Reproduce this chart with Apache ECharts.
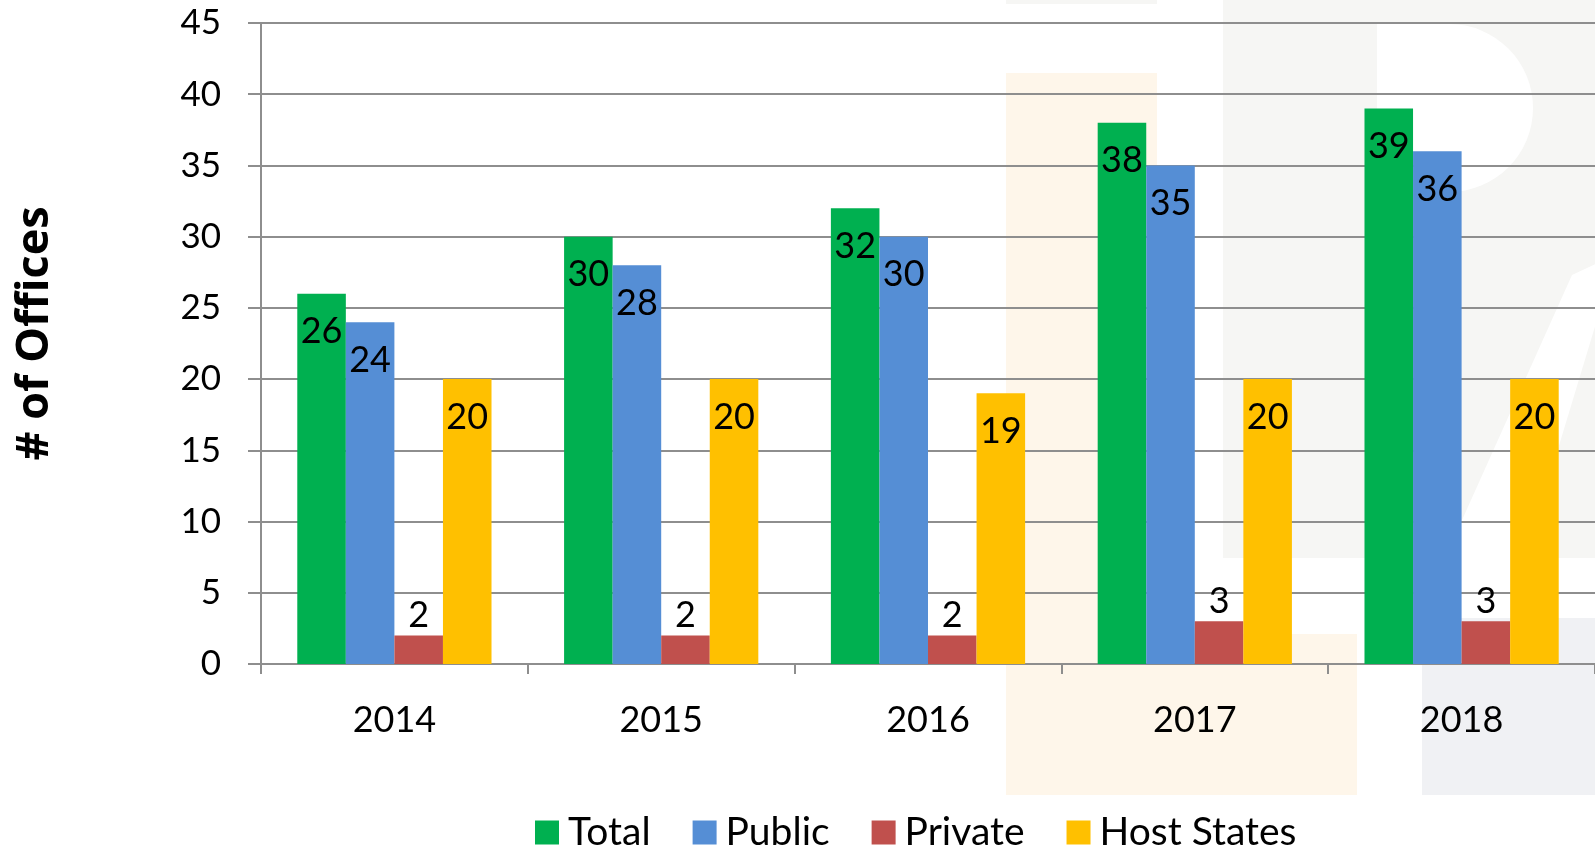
<!DOCTYPE html>
<html>
<head>
<meta charset="utf-8">
<style>
  html, body { margin: 0; padding: 0; background: #fff; }
  #chart { width: 1595px; height: 849px; }
</style>
<script src="https://cdn.jsdelivr.net/npm/echarts@6/dist/echarts.min.js"></script>
</head>
<body>
<div id="chart"></div>
<script>
// data
const years = ['2014', '2015', '2016', '2017', '2018'];
const total = [26, 30, 32, 38, 39];
const publicOffices = [24, 28, 30, 35, 36];
const privateOffices = [2, 2, 2, 3, 3];
const hostStates = [20, 20, 19, 20, 20];
const yTicks = { min: 0, max: 45, step: 5 };

const chart = echarts.init(document.getElementById('chart'));

const FONT = 'Lato';
const gridColor = '#8e8e8e';

// faint logo watermark behind the plot
const wmOrange = '#fef6ea';
const wmGray = '#f6f6f4';
const watermark = [
  { type: 'rect', shape: { x: 1006, y: 0, width: 151, height: 4 }, style: { fill: wmGray } },
  { type: 'rect', shape: { x: 1006, y: 73, width: 151, height: 722 }, style: { fill: wmOrange } },
  { type: 'rect', shape: { x: 1157, y: 634, width: 200, height: 161 }, style: { fill: wmOrange } },
  { type: 'rect', shape: { x: 1223, y: 0, width: 372, height: 558 }, style: { fill: wmGray } },
  { type: 'rect', shape: { x: 1377, y: 24, width: 156, height: 168, r: [0, 84, 84, 0] }, style: { fill: '#fff' } },
  { type: 'polygon', shape: { points: [[1572, 275], [1600, 262], [1600, 310], [1525, 558], [1445, 558]] }, style: { fill: '#fff' } },
  { type: 'rect', shape: { x: 1422, y: 618, width: 173, height: 177 }, style: { fill: '#f0f1f4' } }
].map(g => Object.assign(g, { z: -10, silent: true }));

function barSeries(name, data, color, pos) {
  return {
    name: name,
    type: 'bar',
    data: data,
    barWidth: '18.2%',
    barGap: '0%',
    itemStyle: { color: color },
    label: {
      show: true,
      position: pos,
      distance: pos === 'top' ? 2 : 20,
      color: '#000',
      fontFamily: FONT,
      fontSize: 36
    }
  };
}

chart.setOption({
  animation: false,
  backgroundColor: '#fff',
  graphic: watermark,
  grid: { left: 261, right: 0, top: 23, bottom: 185 },
  legend: {
    left: 530,
    top: 808,
    icon: 'rect',
    itemWidth: 24,
    itemHeight: 24,
    itemGap: 42,
    textStyle: { fontFamily: FONT, fontSize: 39, color: '#000', padding: [0, 0, 0, 4] },
    data: ['Total', 'Public', 'Private', 'Host States']
  },
  xAxis: {
    type: 'category',
    data: years,
    axisLine: { lineStyle: { color: gridColor, width: 2 } },
    axisTick: { show: true, length: 10, lineStyle: { color: gridColor, width: 2 } },
    axisLabel: { color: '#000', fontFamily: FONT, fontSize: 36, margin: 38 }
  },
  yAxis: {
    type: 'value',
    min: yTicks.min,
    max: yTicks.max,
    interval: yTicks.step,
    name: '# of Offices',
    nameLocation: 'middle',
    nameGap: 203,
    nameTextStyle: {
      fontFamily: 'Open Sans', fontWeight: 'bold', fontSize: 45, color: '#000',
      padding: [0, 0, 0, 20]
    },
    axisLine: { show: true, lineStyle: { color: gridColor, width: 2 } },
    axisTick: { show: true, length: 13, lineStyle: { color: gridColor, width: 2 } },
    axisLabel: { color: '#000', fontFamily: FONT, fontSize: 35, margin: 40 },
    splitLine: { lineStyle: { color: gridColor, width: 2 } }
  },
  series: [
    barSeries('Total', total, '#00b050', 'insideTop'),
    barSeries('Public', publicOffices, '#558ed5', 'insideTop'),
    barSeries('Private', privateOffices, '#c0504d', 'top'),
    barSeries('Host States', hostStates, '#ffc000', 'insideTop')
  ]
});
</script>
</body>
</html>
